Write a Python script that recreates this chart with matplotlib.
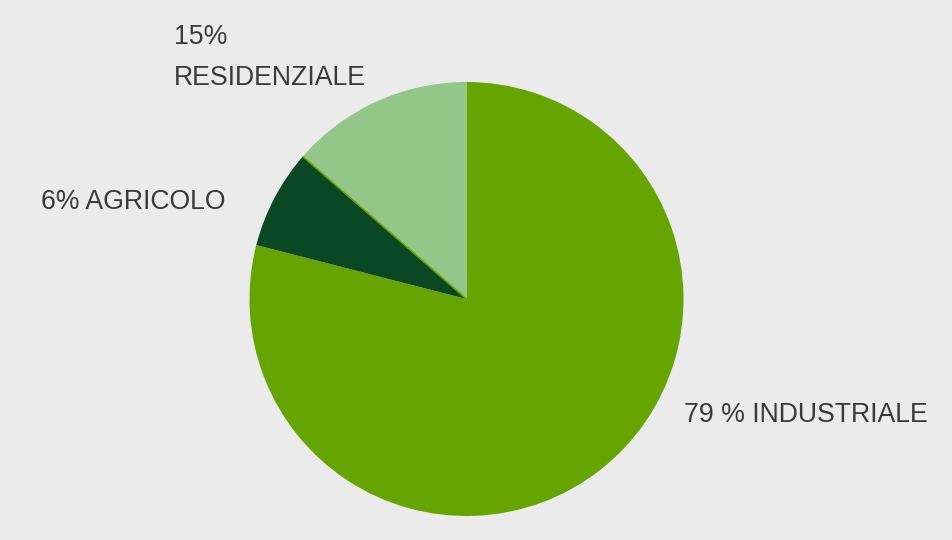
import numpy as np
import matplotlib.pyplot as plt

# Slice shares as drawn (clockwise from 12 o'clock)
sectors = ["INDUSTRIALE", "AGRICOLO", "RESIDENZIALE"]
shares = [79.0, 7.4, 13.6]
colors = ["#66a500", "#0a4725", "#93c78a"]
labels = ["79 % INDUSTRIALE", "6% AGRICOLO", "15%\n\nRESIDENZIALE"]

BG = "#ebebeb"
TXT = "#3a3a3a"

plt.rcParams["font.family"] = ["Liberation Sans", "DejaVu Sans"]

fig = plt.figure(figsize=(9.53, 5.40), dpi=100, facecolor=BG)
ax = fig.add_axes([0, 0, 1, 1])
ax.set_facecolor(BG)

cx, cy, r = 466.5, 241.0, 217.0
ax.pie(shares, colors=colors, startangle=90, counterclock=False,
       center=(cx, cy), radius=r, frame=True,
       wedgeprops=dict(linewidth=0, antialiased=True))
ax.set_xlim(0, 953)
ax.set_ylim(0, 540)
ax.set_aspect("equal")
ax.axis("off")

# thin bright edge between agricolo and residenziale
edge = np.deg2rad(90 - 360 * (shares[0] + shares[1]) / sum(shares))
ax.plot([cx, cx + r * np.cos(edge)], [cy, cy + r * np.sin(edge)],
        color=colors[0], lw=1.2, solid_capstyle="butt")

fs = 19.2
ax.text(174, 503, "15%", fontsize=fs, color=TXT, va="center", ha="left")
ax.text(174, 462, "RESIDENZIALE", fontsize=fs, color=TXT, va="center", ha="left")
ax.text(41, 338, labels[1], fontsize=fs, color=TXT, va="center", ha="left")
ax.text(684, 125, labels[0], fontsize=fs, color=TXT, va="center", ha="left")

fig.savefig("out.png", dpi=100, facecolor=BG)
